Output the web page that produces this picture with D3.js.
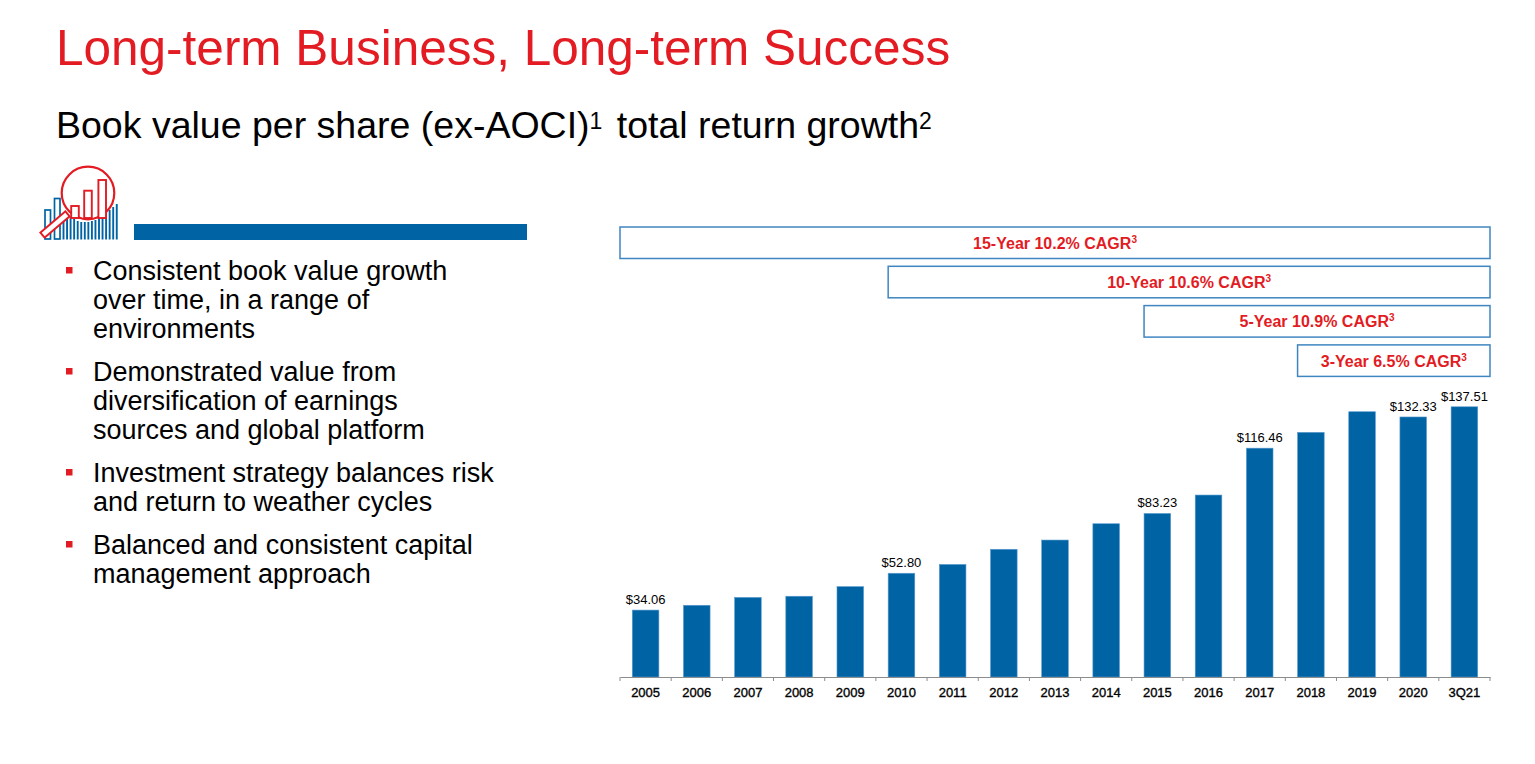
<!DOCTYPE html>
<html>
<head>
<meta charset="utf-8">
<script src="https://cdn.jsdelivr.net/npm/d3@7"></script>
<style>
  body { margin: 0; background: #fff; }
  svg { display: block; font-family: "Liberation Sans", Arial, sans-serif; }
</style>
</head>
<body>
<div id="chart"></div>
<script>
// bar data (only some bars carry a printed label)
var categories = ['2005', '2006', '2007', '2008', '2009', '2010', '2011', '2012', '2013',
  '2014', '2015', '2016', '2017', '2018', '2019', '2020', '3Q21']
var values = [34.06, 36.5, 40.5, 41.1, 46.0, 52.8, 57.3, 65.0, 69.7,
  78.0, 83.23, 92.6, 116.46, 124.5, 135.0, 132.33, 137.51]
var labelled = ['2005', '2010', '2015', '2017', '2020', '3Q21']

// CAGR boxes
var cagrText = ['15-Year 10.2% CAGR', '10-Year 10.6% CAGR', '5-Year 10.9% CAGR', '3-Year 6.5% CAGR']
var cagrFrom = ['2005', '2010', '2015', '2018']

var bullets = [
  ['Consistent book value growth', 'over time, in a range of', 'environments'],
  ['Demonstrated value from', 'diversification of earnings', 'sources and global platform'],
  ['Investment strategy balances risk', 'and return to weather cycles'],
  ['Balanced and consistent capital', 'management approach']
]

// icon decoration: tops of the thin blue lines
var iconTops = [213, 215, 217, 219, 221, 222, 222, 222, 221, 220, 218, 216, 213, 210, 207, 204]

var red = '#e31b23'
var blue = '#0064a4'

var width = 1535
var height = 764

var svg = d3.select('#chart')
  .append('svg')
  .attr('width', width)
  .attr('height', height)

// title + subtitle
svg.append('text')
  .attr('x', 56)
  .attr('y', 65)
  .attr('font-size', 49.5)
  .attr('fill', red)
  .text('Long-term Business, Long-term Success')

var sub = svg.append('text')
  .attr('x', 56)
  .attr('y', 138)
  .attr('font-size', 37.5)
  .attr('fill', '#000')
sub.append('tspan').text('Book value per share (ex-AOCI)')
sub.append('tspan').attr('font-size', 23).attr('y', 129).text('1')
sub.append('tspan').attr('y', 138).attr('dx', 4).text(' total return growth')
sub.append('tspan').attr('font-size', 23).attr('y', 129).text('2')

// icon
var icon = svg.append('g')
icon.selectAll('.icon-box')
  .data([[45, 210], [54.5, 198.5]])
  .enter().append('rect')
  .attr('x', d => d[0])
  .attr('y', d => d[1])
  .attr('width', 5.5)
  .attr('height', d => 239 - d[1])
  .attr('fill', '#fff')
  .attr('stroke', blue)
  .attr('stroke-width', 1.7)
icon.selectAll('.icon-line')
  .data(iconTops)
  .enter().append('line')
  .attr('x1', (d, i) => 63.5 + i * 3.55)
  .attr('x2', (d, i) => 63.5 + i * 3.55)
  .attr('y1', 239.5)
  .attr('y2', d => d)
  .attr('stroke', blue)
  .attr('stroke-width', 1.9)

icon.append('line')
  .attr('x1', 45).attr('y1', 233).attr('x2', 65).attr('y2', 216)
  .attr('stroke', red).attr('stroke-width', 8.5).attr('stroke-linecap', 'square')
icon.append('line')
  .attr('x1', 45).attr('y1', 233).attr('x2', 65).attr('y2', 216)
  .attr('stroke', '#fff').attr('stroke-width', 4.6).attr('stroke-linecap', 'square')
icon.append('circle')
  .attr('cx', 88).attr('cy', 193).attr('r', 26.3)
  .attr('fill', '#fff').attr('stroke', red).attr('stroke-width', 2.2)
icon.selectAll('.icon-bar')
  .data([[71.2, 206], [84.2, 190.7], [98.4, 180]])
  .enter().append('rect')
  .attr('x', d => d[0])
  .attr('y', d => d[1])
  .attr('width', 7.6)
  .attr('height', d => 218 - d[1])
  .attr('fill', '#fff')
  .attr('stroke', red)
  .attr('stroke-width', 1.9)

svg.append('rect')
  .attr('x', 134).attr('y', 224)
  .attr('width', 393).attr('height', 16)
  .attr('fill', blue)

// bullet list
var lineH = 29
var paraGap = 14
var yy = 280
bullets.forEach(function(lines) {
  svg.append('rect')
    .attr('x', 66).attr('y', yy - 13)
    .attr('width', 6.5).attr('height', 6.5)
    .attr('fill', red)
  lines.forEach(function(line) {
    svg.append('text')
      .attr('x', 93)
      .attr('y', yy)
      .attr('font-size', 27)
      .attr('fill', '#000')
      .text(line)
    yy += lineH
  })
  yy += paraGap
})

// chart
var x = d3.scaleBand()
  .domain(categories)
  .range([620, 1490])
  .paddingInner(0.48)
  .paddingOuter(0.24)

var y = d3.scaleLinear()
  .domain([0, 140])
  .range([677, 677 - 140 * 1.965])

var data = categories.map((c, i) => ({ cat: c, value: values[i] }))

svg.selectAll('.bar')
  .data(data)
  .enter().append('rect')
  .attr('class', 'bar')
  .attr('x', d => x(d.cat))
  .attr('y', d => y(d.value))
  .attr('width', x.bandwidth())
  .attr('height', d => y(0) - y(d.value))
  .attr('fill', blue)
  .attr('stroke', '#5b9bd0')
  .attr('stroke-width', 0.6)

svg.selectAll('.value-label')
  .data(data.filter(d => labelled.indexOf(d.cat) >= 0))
  .enter().append('text')
  .attr('class', 'value-label')
  .attr('x', d => x(d.cat) + x.bandwidth() / 2)
  .attr('y', d => y(d.value) - 6)
  .attr('text-anchor', 'middle')
  .attr('font-size', 13)
  .attr('fill', '#000')
  .text(d => '$' + d3.format('.2f')(d.value))

var xAxis = svg.append('g')
  .attr('transform', 'translate(0,' + y(0) + ')')
  .call(d3.axisBottom(x).tickSize(0).tickSizeOuter(0).tickPadding(11))
xAxis.select('.domain').attr('stroke', '#8c8c8c')
xAxis.selectAll('text')
  .attr('font-size', 13)
  .attr('font-family', '"Liberation Sans", Arial, sans-serif')
  .attr('fill', '#000')
  .attr('stroke', '#000')
  .attr('stroke-width', 0.35)

// ticks on the category boundaries
xAxis.selectAll('.boundary')
  .data(d3.range(categories.length + 1))
  .enter().append('line')
  .attr('x1', i => x.range()[0] + i * x.step())
  .attr('x2', i => x.range()[0] + i * x.step())
  .attr('y1', 0)
  .attr('y2', 4)
  .attr('stroke', '#8c8c8c')

// CAGR boxes
var boxTop = 227
var boxH = 31.5
var boxStep = 39.3
cagrText.forEach(function(t, i) {
  var x0 = i === 0 ? x.range()[0] : x(cagrFrom[i])
  var x1 = x.range()[1]
  var by = boxTop + i * boxStep
  svg.append('rect')
    .attr('x', x0).attr('y', by)
    .attr('width', x1 - x0).attr('height', boxH)
    .attr('fill', '#fff')
    .attr('stroke', '#3f86c0')
    .attr('stroke-width', 1.5)
  var label = svg.append('text')
    .attr('x', (x0 + x1) / 2)
    .attr('y', by + boxH / 2 + 6)
    .attr('text-anchor', 'middle')
    .attr('font-size', 16)
    .attr('font-weight', 'bold')
    .attr('fill', red)
  label.append('tspan').text(t)
  label.append('tspan').attr('font-size', 10).attr('dy', -6).text('3')
})
</script>
</body>
</html>
